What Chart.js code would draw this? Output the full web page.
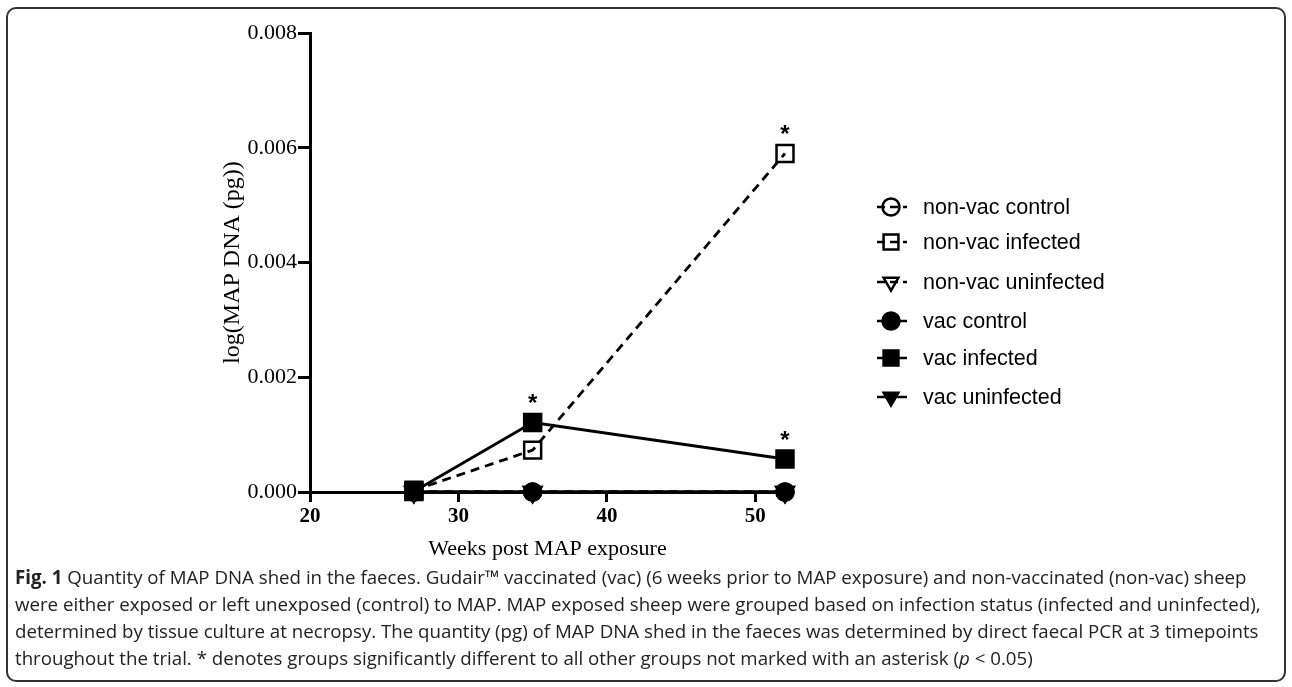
<!DOCTYPE html>
<html lang="en">
<head>
    <meta charset="UTF-8">
    <title>Fig. 1 - MAP DNA shed in faeces</title>
    <script src="https://cdn.jsdelivr.net/npm/chart.js"></script>
    <style>
        body { margin: 0; padding: 0; background: #fff; width: 1292px; height: 687px; overflow: hidden; position: relative; }
        .frame { position: absolute; left: 6px; top: 7px; width: 1276px; height: 671px; border: 2px solid #333; border-radius: 10px; }
        #chart { position: absolute; left: 0; top: 0; }
        .caption { position: absolute; left: 15px; top: 563px; font-family: "Open Sans", sans-serif; font-size: 18.7px; line-height: 27px; color: #222; white-space: nowrap; }
        .caption b { font-weight: 700; }
    </style>
</head>
<body>
    <div class="frame"></div>
    <canvas id="chart" width="1292" height="570"></canvas>
    <div class="caption">
        <b>Fig. 1</b> Quantity of MAP DNA shed in the faeces. Gudair™ vaccinated (vac) (6 weeks prior to MAP exposure) and non-vaccinated (non-vac) sheep<br>
        were either exposed or left unexposed (control) to MAP. MAP exposed sheep were grouped based on infection status (infected and uninfected),<br>
        determined by tissue culture at necropsy. The quantity (pg) of MAP DNA shed in the faeces was determined by direct faecal PCR at 3 timepoints<br>
        throughout the trial. * denotes groups significantly different to all other groups not marked with an asterisk (<i>p</i> &lt; 0.05)
    </div>
    <script>
        // weeks post exposure
        const weeks = [27, 35, 52];
        const xTicks = [20, 30, 40, 50];
        const yTicks = [0, 0.002, 0.004, 0.006, 0.008];

        const nonVacControl = [0, 0, 0];
        const nonVacInfected = [0.00003, 0.00073, 0.0059];
        const nonVacUninfected = [0, 0, 0];
        const vacControl = [0, 0, 0];
        const vacInfected = [0.00001, 0.00121, 0.000575];
        const vacUninfected = [0, 0, 0];

        // asterisks (significant)
        const nonVacInfectedSig = [false, true, true];
        const vacInfectedSig = [false, true, true];

        function pts(vals) {
            return vals.map((v, i) => ({ x: weeks[i], y: v }));
        }

        function serie(label, vals, style, filled, dashed, radius, rot, sig) {
            return {
                label: label,
                data: pts(vals),
                borderColor: '#000',
                backgroundColor: filled ? '#000' : 'rgba(0,0,0,0)',
                borderWidth: 2.8,
                borderDash: dashed ? [9, 6] : [],
                pointStyle: style,
                pointRotation: rot || 0,
                pointRadius: radius,
                pointHoverRadius: radius,
                pointBorderWidth: 2.5,
                pointBorderColor: '#000',
                pointBackgroundColor: filled ? '#000' : 'rgba(0,0,0,0)',
                clip: false,
                sig: sig || null,
                dashed: dashed
            };
        }

        const datasets = [
            serie('vac control', vacControl, 'circle', true, false, 8.5),
            serie('vac infected', vacInfected, 'rect', true, false, 12, 0, vacInfectedSig),
            serie('vac uninfected', vacUninfected, 'triangle', true, false, 10, 180),
            serie('non-vac control', nonVacControl, 'circle', false, true, 8.5),
            serie('non-vac infected', nonVacInfected, 'rect', false, true, 12, 0, nonVacInfectedSig),
            serie('non-vac uninfected', nonVacUninfected, 'triangle', false, true, 10, 180)
        ];
        const legendOrder = ['non-vac control', 'non-vac infected', 'non-vac uninfected', 'vac control', 'vac infected', 'vac uninfected'];

        const asteriscos = {
            id: 'asteriscos',
            afterDatasetsDraw(chart) {
                const ctx = chart.ctx;
                ctx.save();
                ctx.fillStyle = '#000';
                ctx.font = 'bold 24px "Liberation Sans", Arial, sans-serif';
                ctx.textAlign = 'center';
                ctx.textBaseline = 'middle';
                chart.data.datasets.forEach((ds, i) => {
                    if (!ds.sig) return;
                    const meta = chart.getDatasetMeta(i);
                    ds.sig.forEach((s, j) => {
                        if (!s) return;
                        const p = meta.data[j];
                        ctx.fillText('*', p.x, p.y - 18);
                    });
                });
                ctx.restore();
            }
        };

        const leyenda = {
            id: 'leyenda',
            afterDraw(chart) {
                const ctx = chart.ctx;
                const x0 = 877, x1 = 907, xm = 891, xt = 923;
                const filas = [207, 242, 282, 321, 358, 397];
                ctx.save();
                legendOrder.forEach((name, k) => {
                    const y = filas[k];
                    const ds = chart.data.datasets.find(d => d.label === name);
                    ctx.strokeStyle = '#000';
                    ctx.lineWidth = 2.5;
                    ctx.setLineDash(ds.dashed ? [8, 5] : []);
                    ctx.beginPath();
                    ctx.moveTo(x0, y);
                    ctx.lineTo(x1, y);
                    ctx.stroke();
                    ctx.setLineDash([]);
                    ctx.fillStyle = ds.pointBackgroundColor;
                    ctx.lineWidth = 2.5;
                    Chart.helpers.drawPoint(ctx, {
                        pointStyle: ds.pointStyle,
                        rotation: ds.pointRotation,
                        radius: ds.pointStyle === 'rect' ? 10.5 : 8.5,
                        borderWidth: 2.5
                    }, xm, y);
                    ctx.fillStyle = '#000';
                    ctx.font = '21.5px "Liberation Sans", Arial, sans-serif';
                    ctx.textAlign = 'left';
                    ctx.textBaseline = 'middle';
                    ctx.fillText(name, xt, y + 1);
                });
                ctx.restore();
            }
        };

        const ctx = document.getElementById('chart').getContext('2d');
        new Chart(ctx, {
            type: 'line',
            data: { datasets: datasets },
            options: {
                responsive: false,
                animation: false,
                events: [],
                layout: { padding: { left: 0, top: 33, right: 507, bottom: 0 } },
                plugins: { legend: { display: false }, tooltip: { enabled: false } },
                scales: {
                    x: {
                        type: 'linear',
                        min: 20,
                        max: 52,
                        afterBuildTicks: s => { s.ticks = xTicks.map(v => ({ value: v })); },
                        afterFit: s => { s.height = 78; },
                        grid: { drawOnChartArea: false, drawTicks: true, tickLength: 10, tickWidth: 3, tickColor: '#000' },
                        border: { display: true, width: 3, color: '#000' },
                        ticks: {
                            color: '#000',
                            padding: 2,
                            maxRotation: 0,
                            font: { family: '"Liberation Serif", "Times New Roman", serif', size: 21, weight: 'bold' }
                        },
                        title: {
                            display: true,
                            text: 'Weeks post MAP exposure',
                            color: '#000',
                            padding: { top: 0, bottom: 8 },
                            font: { family: '"Liberation Serif", "Times New Roman", serif', size: 22 }
                        }
                    },
                    y: {
                        min: 0,
                        max: 0.008,
                        afterBuildTicks: s => { s.ticks = yTicks.map(v => ({ value: v })); },
                        afterFit: s => { s.width = 310; },
                        grid: { drawOnChartArea: false, drawTicks: true, tickLength: 12, tickWidth: 3, tickColor: '#000' },
                        border: { display: true, width: 3, color: '#000' },
                        ticks: {
                            color: '#000',
                            padding: 1,
                            callback: v => v.toFixed(3),
                            font: { family: '"Liberation Serif", "Times New Roman", serif', size: 22 }
                        },
                        title: {
                            display: true,
                            text: 'log(MAP DNA (pg))',
                            color: '#000',
                            padding: { top: 218, bottom: 0 },
                            font: { family: '"Liberation Serif", "Times New Roman", serif', size: 24 }
                        }
                    }
                }
            },
            plugins: [asteriscos, leyenda]
        });
    </script>
</body>
</html>
